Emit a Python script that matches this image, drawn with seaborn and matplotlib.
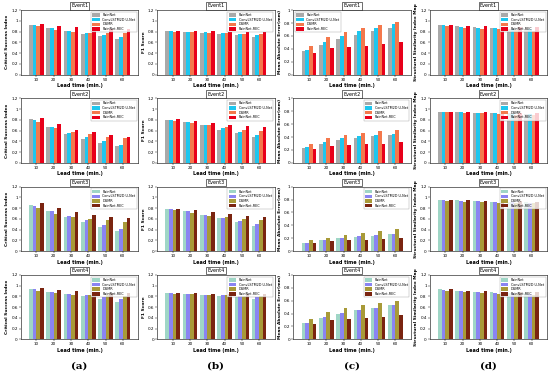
import numpy as np
import pandas as pd
import matplotlib
matplotlib.use("Agg")
import matplotlib.pyplot as plt
import seaborn as sns

lead_times = [10, 20, 30, 40, 50, 60]
models = ["RainNet", "ConvLSTM2D U-Net", "DGMR", "RainNet-REC"]
events = ["Event1", "Event2", "Event3", "Event4"]
metrics = ["Critical Success Index", "F1 Score", "Mean Absolute Error(mm)",
           "Structural Similarity Index Map"]

# Event1
csi_e1 = [[0.93, 0.87, 0.82, 0.76, 0.71, 0.66],
          [0.92, 0.86, 0.81, 0.78, 0.74, 0.70],
          [0.90, 0.83, 0.80, 0.78, 0.78, 0.77],
          [0.94, 0.91, 0.88, 0.87, 0.85, 0.84]]
f1_e1 = [[0.81, 0.80, 0.78, 0.76, 0.73, 0.70],
         [0.81, 0.80, 0.79, 0.77, 0.76, 0.74],
         [0.80, 0.79, 0.77, 0.77, 0.76, 0.75],
         [0.81, 0.81, 0.81, 0.80, 0.80, 0.79]]
mae_e1 = [[0.36, 0.46, 0.55, 0.62, 0.68, 0.73],
          [0.38, 0.50, 0.60, 0.67, 0.73, 0.78],
          [0.45, 0.58, 0.66, 0.73, 0.77, 0.82],
          [0.34, 0.41, 0.43, 0.45, 0.48, 0.51]]
ssim_e1 = [[0.93, 0.90, 0.88, 0.87, 0.85, 0.84],
           [0.92, 0.89, 0.87, 0.86, 0.85, 0.84],
           [0.90, 0.87, 0.85, 0.84, 0.83, 0.82],
           [0.93, 0.91, 0.90, 0.89, 0.89, 0.88]]
# Event2
csi_e2 = [[0.82, 0.66, 0.54, 0.44, 0.37, 0.31],
          [0.80, 0.66, 0.56, 0.48, 0.40, 0.34],
          [0.76, 0.65, 0.58, 0.53, 0.49, 0.46],
          [0.83, 0.72, 0.61, 0.57, 0.52, 0.48]]
f1_e2 = [[0.80, 0.76, 0.70, 0.62, 0.55, 0.48],
         [0.80, 0.76, 0.71, 0.64, 0.58, 0.52],
         [0.78, 0.74, 0.70, 0.66, 0.62, 0.60],
         [0.81, 0.77, 0.74, 0.70, 0.68, 0.66]]
mae_e2 = [[0.23, 0.30, 0.35, 0.38, 0.41, 0.43],
          [0.25, 0.33, 0.38, 0.41, 0.43, 0.45],
          [0.30, 0.38, 0.43, 0.47, 0.49, 0.51],
          [0.22, 0.26, 0.28, 0.29, 0.30, 0.32]]
ssim_e2 = [[0.95, 0.94, 0.93, 0.92, 0.92, 0.91],
           [0.95, 0.94, 0.93, 0.92, 0.91, 0.91],
           [0.94, 0.93, 0.92, 0.91, 0.90, 0.90],
           [0.95, 0.94, 0.94, 0.93, 0.93, 0.92]]
# Event3
csi_e3 = [[0.86, 0.75, 0.63, 0.54, 0.44, 0.37],
          [0.84, 0.75, 0.65, 0.57, 0.49, 0.42],
          [0.80, 0.70, 0.63, 0.60, 0.58, 0.55],
          [0.89, 0.80, 0.72, 0.68, 0.64, 0.61]]
f1_e3 = [[0.79, 0.74, 0.68, 0.61, 0.55, 0.47],
         [0.79, 0.74, 0.67, 0.61, 0.56, 0.50],
         [0.76, 0.71, 0.66, 0.63, 0.60, 0.57],
         [0.79, 0.76, 0.72, 0.69, 0.66, 0.64]]
mae_e3 = [[0.12, 0.17, 0.20, 0.22, 0.24, 0.26],
          [0.13, 0.18, 0.21, 0.23, 0.25, 0.27],
          [0.17, 0.21, 0.25, 0.28, 0.31, 0.34],
          [0.12, 0.15, 0.17, 0.18, 0.19, 0.21]]
ssim_e3 = [[0.96, 0.95, 0.93, 0.92, 0.91, 0.91],
           [0.96, 0.94, 0.93, 0.92, 0.91, 0.90],
           [0.94, 0.92, 0.91, 0.90, 0.90, 0.89],
           [0.96, 0.95, 0.94, 0.93, 0.93, 0.92]]
# Event4
csi_e4 = [[0.94, 0.89, 0.84, 0.80, 0.75, 0.70],
          [0.93, 0.89, 0.85, 0.82, 0.78, 0.75],
          [0.91, 0.87, 0.82, 0.82, 0.82, 0.80],
          [0.95, 0.92, 0.90, 0.89, 0.87, 0.86]]
f1_e4 = [[0.86, 0.84, 0.83, 0.81, 0.79, 0.76],
         [0.86, 0.84, 0.83, 0.82, 0.80, 0.78],
         [0.85, 0.84, 0.82, 0.82, 0.81, 0.80],
         [0.86, 0.86, 0.85, 0.85, 0.84, 0.84]]
mae_e4 = [[0.25, 0.33, 0.40, 0.45, 0.49, 0.54],
          [0.26, 0.35, 0.41, 0.45, 0.49, 0.53],
          [0.32, 0.42, 0.49, 0.54, 0.56, 0.60],
          [0.24, 0.30, 0.32, 0.33, 0.35, 0.38]]
ssim_e4 = [[0.93, 0.91, 0.89, 0.88, 0.87, 0.86],
           [0.92, 0.90, 0.89, 0.87, 0.86, 0.85],
           [0.90, 0.88, 0.86, 0.85, 0.84, 0.83],
           [0.93, 0.91, 0.90, 0.89, 0.88, 0.88]]

grid = [[csi_e1, f1_e1, mae_e1, ssim_e1],
        [csi_e2, f1_e2, mae_e2, ssim_e2],
        [csi_e3, f1_e3, mae_e3, ssim_e3],
        [csi_e4, f1_e4, mae_e4, ssim_e4]]

palette_a = ["#a9a9a9", "#1ec6ee", "#f4784c", "#e8001a"]
palette_b = ["#9fd6c6", "#8a84f2", "#a89a38", "#7a2410"]

fig, axes = plt.subplots(4, 4, figsize=(5.5, 3.75), dpi=100)
fig.subplots_adjust(left=0.038, right=0.995, top=0.973, bottom=0.095,
                    wspace=0.16, hspace=0.37)

fs = 3
for r in range(4):
    pal = palette_a if r < 2 else palette_b
    for c in range(4):
        ax = axes[r, c]
        vals = grid[r][c]
        df = pd.DataFrame([(lt, m, vals[i][j]) for i, m in enumerate(models)
                           for j, lt in enumerate(lead_times)],
                          columns=["lead", "model", "value"])
        sns.barplot(data=df, x="lead", y="value", hue="model", palette=pal,
                    width=0.85, ax=ax, saturation=1)
        ymax = 1.0 if c == 2 else 1.2
        ax.set_ylim(0, ymax)
        ticks = np.arange(0, ymax + 0.01, 0.2)
        ax.set_yticks(ticks)
        ax.set_yticklabels(["0" if t == 0 else ("1" if abs(t - 1) < 1e-6 else f"{t:.1f}") for t in ticks])
        ax.set_xlim(-0.9, 5.9)
        ax.tick_params(labelsize=fs, length=1.2, width=0.3, pad=1)
        ax.set_xlabel("Lead time (min.)", fontsize=3.5, fontweight="bold", labelpad=1)
        ax.set_ylabel(metrics[c], fontsize=3.2, fontweight="bold", labelpad=1.5)
        for s in ax.spines.values():
            s.set_linewidth(0.4)
        ax.set_title(events[r], fontsize=3.5, pad=2,
                     bbox=dict(boxstyle="square,pad=0.25", fc="white", ec="black", lw=0.4))
        loc = "upper left" if (r == 0 and c == 2) else "upper right"
        leg = ax.legend(loc=loc, fontsize=2.4, frameon=True, handlelength=2.2,
                        handleheight=1.2, borderpad=0.4, labelspacing=0.2,
                        fancybox=False)
        leg.get_frame().set_linewidth(0.3)
        leg.get_frame().set_edgecolor("#888888")

for c, lab in enumerate(["(a)", "(b)", "(c)", "(d)"]):
    pos = axes[3, c].get_position()
    fig.text((pos.x0 + pos.x1) / 2, 0.025, lab, ha="center", va="center",
             fontsize=7.5, fontweight="bold", family="DejaVu Serif")

fig.savefig("out.png", dpi=100)
